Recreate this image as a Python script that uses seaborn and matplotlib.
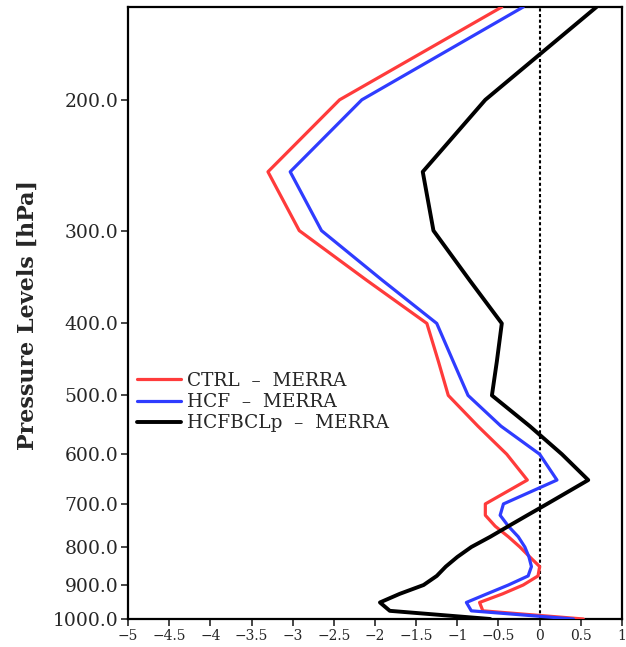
import numpy as np
import pandas as pd
import matplotlib
matplotlib.use("Agg")
import matplotlib.pyplot as plt
import seaborn as sns

levels = [1000, 975, 950, 925, 900, 875, 850, 825, 800, 775, 750, 725, 700,
          650, 600, 550, 500, 450, 400, 350, 300, 250, 200, 150]
ctrl = [0.53, -0.69, -0.73, -0.45, -0.20, -0.02, 0.00, -0.12, -0.24, -0.38, -0.54, -0.66, -0.66,
        -0.15, -0.40, -0.75, -1.11, -1.23, -1.37, -2.10, -2.92, -3.30, -2.43, -0.46]
hcf = [0.41, -0.83, -0.89, -0.64, -0.38, -0.14, -0.10, -0.13, -0.18, -0.26, -0.38, -0.48, -0.44,
       0.21, 0.00, -0.47, -0.87, -1.05, -1.25, -1.91, -2.65, -3.03, -2.16, -0.20]
hcfbclp = [-0.60, -1.82, -1.94, -1.70, -1.41, -1.25, -1.14, -1.00, -0.83, -0.60, -0.38, -0.15, 0.09,
           0.59, 0.27, -0.12, -0.58, -0.52, -0.46, -0.85, -1.29, -1.42, -0.66, 0.69]
series_names = ["CTRL  \u2013  MERRA", "HCF  \u2013  MERRA", "HCFBCLp  \u2013  MERRA"]
colors = ["#ff3b3b", "#2f3cff", "#000000"]
widths = [2.3, 2.3, 2.8]
ytick_vals = [200, 300, 400, 500, 600, 700, 800, 900, 1000]
xtick_vals = [-5, -4.5, -4, -3.5, -3, -2.5, -2, -1.5, -1, -0.5, 0, 0.5, 1]

sns.set_style("ticks")
plt.rcParams['font.family'] = ['DejaVu Serif', 'Liberation Serif']

frames = []
for name, vals in zip(series_names, [ctrl, hcf, hcfbclp]):
    frames.append(pd.DataFrame({"level": levels, "value": vals, "series": name}))
df = pd.concat(frames, ignore_index=True)

fig = plt.figure(figsize=(6.26, 6.47), dpi=100)
ax = fig.add_axes([128/626, 1 - 619/647, (622-128)/626, (619-7)/647])

ax.axvline(0, color="black", lw=1.5, ls=(0, (1.5, 1.2)), zorder=1)
for name, c, w in zip(series_names, colors, widths):
    sub = df[df["series"] == name]
    sns.lineplot(data=sub, x="value", y="level", sort=False, estimator=None,
                 color=c, lw=w, ax=ax, label=name, zorder=3)

ax.set_yscale("log")
ax.set_ylim(1000, 150)
ax.set_xlim(-5, 1)
ax.yaxis.set_minor_locator(matplotlib.ticker.NullLocator())
ax.set_yticks(ytick_vals)
ax.set_yticklabels([f"{v:.1f}" for v in ytick_vals], fontsize=13.5)
ax.set_xticks(xtick_vals)
ax.set_xticklabels([f"{v:g}".replace("-", "\u2212") for v in xtick_vals], fontsize=10)
ax.tick_params(direction="out", length=5, width=1.2, pad=2)
ax.set_xlabel("")
ax.set_ylabel("Pressure Levels [hPa]", fontsize=16, fontweight="bold")
ax.yaxis.set_label_coords(-0.18, 0.497)
for s in ax.spines.values():
    s.set_linewidth(1.6)
    s.set_color("black")

ax.legend(loc="upper left", bbox_to_anchor=(0.018, 0.404), frameon=False,
          fontsize=13.3, handlelength=2.4, handletextpad=0.3, labelspacing=0.18,
          borderpad=0, borderaxespad=0)

fig.savefig("out.png", dpi=100)
